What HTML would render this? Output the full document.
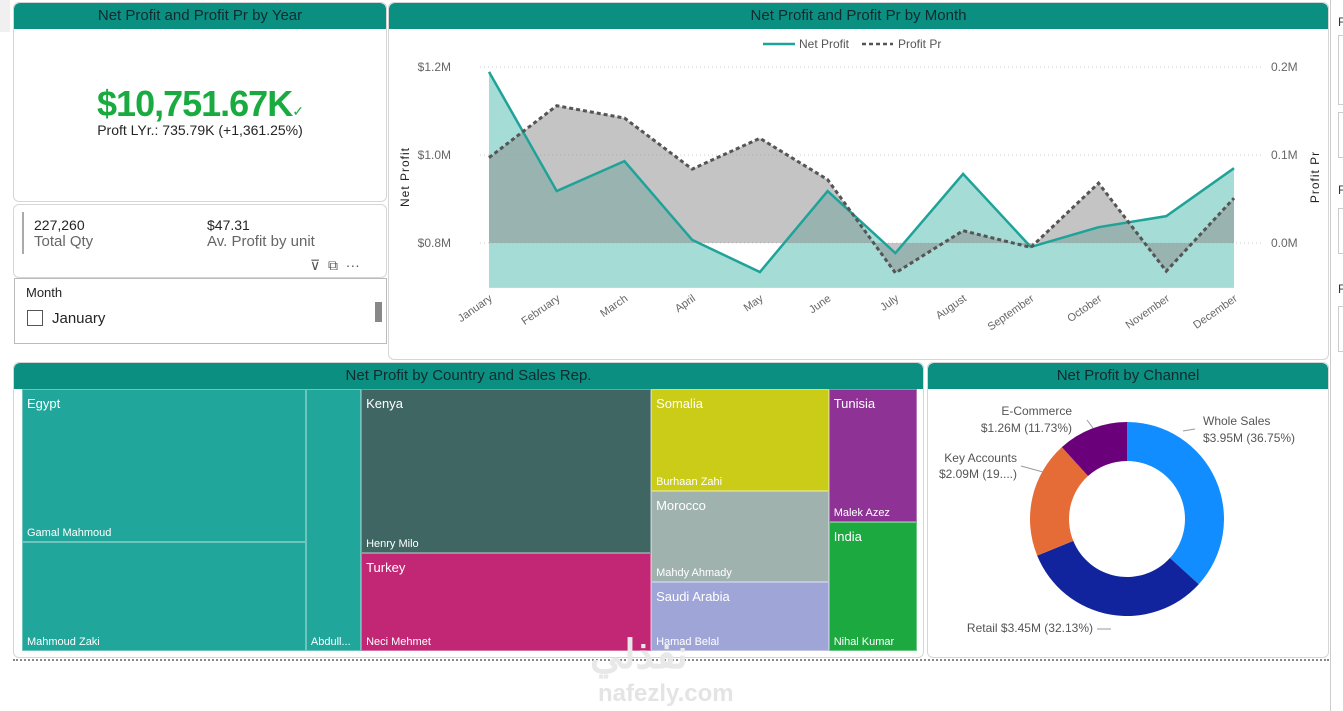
<!DOCTYPE html>
<html><head><meta charset="utf-8">
<style>
body{margin:0;width:1343px;height:711px;background:#fff;position:relative;overflow:hidden;font-family:"Liberation Sans",sans-serif;}
.panel{position:absolute;background:#fff;border:1px solid #d6d6d6;border-radius:6px;box-sizing:border-box;overflow:hidden}
.hdr{position:absolute;left:0;right:0;top:0;height:26px;background:#0b8f81;color:#112a30;font-size:15px;text-align:center;line-height:26px;border-radius:6px 6px 0 0}
.abs{position:absolute}
</style></head><body>
<div class="abs" style="left:0;top:0;width:10px;height:32px;background:#f0f0f0"></div>
<div class="panel" style="left:13px;top:2px;width:374px;height:200px">
  <div class="hdr">Net Profit and Profit Pr by Year</div>
  <div class="abs" style="left:0;right:0;top:80px;text-align:center;font-size:36px;color:#1aab40;font-weight:bold;letter-spacing:-1px">$10,751.67K<span style="font-size:14px;font-weight:normal">✓</span></div>
  <div class="abs" style="left:0;right:0;top:119px;text-align:center;font-size:14px;color:#252525">Proft LYr.: 735.79K (+1,361.25%)</div>
</div>
<div class="panel" style="left:13px;top:204px;width:374px;height:74px">
  <div class="abs" style="left:8px;top:7px;width:2px;height:42px;background:#aaa"></div>
  <div class="abs" style="left:20px;top:12px;font-size:14px;color:#252525">227,260<br><span style="color:#666;font-size:15px">Total Qty</span></div>
  <div class="abs" style="left:193px;top:12px;font-size:14px;color:#252525">$47.31<br><span style="color:#666;font-size:15px">Av. Profit by unit</span></div>
  <div class="abs" style="left:296px;top:52px;font-size:14px;color:#555">⊽ &nbsp;⧉ &nbsp;···</div>
</div>
<div class="panel" style="left:14px;top:278px;width:373px;height:66px;border:1px solid #bbb;border-radius:0">
  <div class="abs" style="left:11px;top:6px;font-size:13px;color:#252525">Month</div>
  <div class="abs" style="left:12px;top:31px;width:14px;height:14px;border:1px solid #555"></div>
  <div class="abs" style="left:37px;top:31px;font-size:15px;color:#252525">January</div>
  <div class="abs" style="left:360px;top:23px;width:7px;height:20px;background:#888"></div>
</div>
<div class="panel" style="left:388px;top:2px;width:941px;height:358px">
  <div class="hdr">Net Profit and Profit Pr by Month</div>
</div>
<svg class="abs" style="left:0;top:0" width="1343" height="711" id="lc">
</svg>
<div class="abs" style="left:1330px;top:0;width:1px;height:711px;background:#ccc"></div>
<div class="abs" style="left:1338px;top:15px;font-size:12px;color:#333">F</div>
<div class="abs" style="left:1338px;top:35px;width:10px;height:68px;border:1px solid #ccc"></div>
<div class="abs" style="left:1338px;top:112px;width:10px;height:44px;border:1px solid #ccc"></div>
<div class="abs" style="left:1338px;top:183px;font-size:12px;color:#333">F</div>
<div class="abs" style="left:1338px;top:208px;width:10px;height:44px;border:1px solid #ccc"></div>
<div class="abs" style="left:1338px;top:282px;font-size:12px;color:#333">F</div>
<div class="abs" style="left:1338px;top:306px;width:10px;height:44px;border:1px solid #ccc"></div>

<div class="panel" style="left:13px;top:362px;width:911px;height:296px">
  <div class="hdr">Net Profit by Country and Sales Rep.</div>
</div>
<div class="abs" id="tm" style="left:22px;top:389px;width:895px;height:262px"></div>
<div class="panel" style="left:927px;top:362px;width:402px;height:296px">
  <div class="hdr">Net Profit by Channel</div>
</div>
<svg class="abs" id="dn" style="left:927px;top:362px" width="402" height="296"></svg>
<div class="abs" style="left:13px;top:659px;width:1316px;border-top:2px dotted #888"></div>
<div class="abs" style="left:590px;top:632px;font-size:40px;color:#e8e8e8;font-weight:bold">نفذلي</div>
<div class="abs" style="left:598px;top:680px;font-size:24px;color:#e4e4e4;font-weight:bold">nafezly.com</div>
<script>
const months=["January","February","March","April","May","June","July","August","September","October","November","December"];
const netProfit=[1.189,0.918,0.986,0.807,0.734,0.918,0.777,0.957,0.791,0.836,0.861,0.970];
const profitPr=[0.097,0.156,0.142,0.084,0.119,0.072,-0.034,0.014,-0.005,0.068,-0.032,0.051];
const leftTicks=[0.8,1.0,1.2];const leftLabels=["$0.8M","$1.0M","$1.2M"];
const rightTicks=[0,0.1,0.2];const rightLabels=["0.0M","0.1M","0.2M"];
const NS="http://www.w3.org/2000/svg";
function mk(p,t,a){const e=document.createElementNS(NS,t);for(const k in a)e.setAttribute(k,a[k]);p.appendChild(e);return e;}
const lc=document.getElementById('lc');
const X=i=>489+i*(1234-489)/(months.length-1);
const YL=v=>243-(v-0.8)*440;
const YR=v=>243-v*880;
leftTicks.forEach((t,i)=>{
 const g=mk(lc,'line',{x1:480,x2:1262,y1:YL(t),y2:YL(t),stroke:'#ccc','stroke-dasharray':'1,3'});
 
 const l=mk(lc,'text',{x:451,y:YL(t)+4,'font-size':12,fill:'#666','text-anchor':'end'});l.textContent=leftLabels[i];
 });
rightTicks.forEach((t,i)=>{const l=mk(lc,'text',{x:1271,y:YR(t)+4,'font-size':12,fill:'#666'});l.textContent=rightLabels[i];
 });
let d='M'+X(0)+','+YL(0.698);netProfit.forEach((v,i)=>d+='L'+X(i)+','+YL(v));d+='L'+X(11)+','+YL(0.698)+'Z';
const a1=mk(lc,'path',{d,fill:'#80cdc4','fill-opacity':0.7});
let d2='M'+X(0)+','+YR(0);profitPr.forEach((v,i)=>d2+='L'+X(i)+','+YR(v));d2+='L'+X(11)+','+YR(0)+'Z';
const a2=mk(lc,'path',{d:d2,fill:'#8a8a8a','fill-opacity':0.5});
const l1=mk(lc,'polyline',{points:netProfit.map((v,i)=>X(i)+','+YL(v)).join(' '),fill:'none',stroke:'#1fa399','stroke-width':2.5});

const l2=mk(lc,'polyline',{points:profitPr.map((v,i)=>X(i)+','+YR(v)).join(' '),fill:'none',stroke:'#555','stroke-width':3,'stroke-dasharray':'4,3'});

months.forEach((m,i)=>{const t=mk(lc,'text',{x:X(i)+4,y:300,'font-size':11,fill:'#666','text-anchor':'end',transform:`rotate(-35 ${X(i)+4} 300)`});t.textContent=m;
 });
let t=mk(lc,'text',{x:0,y:0,'font-size':12,fill:'#222','text-anchor':'middle',transform:'translate(409 177) rotate(-90)','letter-spacing':1});t.textContent='Net Profit';

t=mk(lc,'text',{x:0,y:0,'font-size':12,fill:'#222','text-anchor':'middle',transform:'translate(1319 177) rotate(-90)','letter-spacing':1});t.textContent='Profit Pr';

mk(lc,'line',{x1:763,x2:795,y1:44,y2:44,stroke:'#1fa399','stroke-width':2.5});
t=mk(lc,'text',{x:799,y:48,'font-size':12,fill:'#555'});t.textContent='Net Profit';
mk(lc,'line',{x1:862,x2:893,y1:44,y2:44,stroke:'#555','stroke-width':2.5,'stroke-dasharray':'4,3'});
t=mk(lc,'text',{x:898,y:48,'font-size':12,fill:'#555'});t.textContent='Profit Pr';

// treemap
const tmNames=["Gamal Mahmoud","Mahmoud Zaki","Abdull...","Henry Milo","Neci Mehmet","Burhaan Zahi","Mahdy Ahmady","Hamad Belal","Malek Azez","Nihal Kumar"];
const tmCountries=["Egypt","","","Kenya","Turkey","Somalia","Morocco","Saudi Arabia","Tunisia","India"];
const tmValues=[1992,1419,663,2181,1303,831,741,562,539,522];
const tmColumn=[0,0,1,2,2,3,3,3,4,4];
const tmColors=["#20a69a","#20a69a","#20a69a","#3f6663","#c12775","#cbcc18","#a0b2ae","#a0a5d8","#8e3395","#1caa40"];
const tm=document.getElementById('tm');const W=895,H=262;
const total=tmValues.reduce((a,b)=>a+b,0);const ncol=Math.max(...tmColumn)+1;
let cx=0;
for(let c=0;c<ncol;c++){
 const idx=tmValues.map((v,i)=>i).filter(i=>tmColumn[i]===c);
 const cs=idx.reduce((s,i)=>s+tmValues[i],0);const cw=W*cs/total;let cy=0;
 idx.forEach(i=>{const h=H*tmValues[i]/cs;const e=document.createElement('div');
  
  
  e.style.cssText=`position:absolute;left:${cx}px;top:${cy}px;width:${cw}px;height:${h}px;background:${tmColors[i]};box-sizing:border-box;border:1px solid rgba(255,255,255,0.35);color:#fff;overflow:hidden`;
  e.innerHTML=(tmCountries[i]?`<div style="position:absolute;left:4px;top:6px;font-size:13px">${tmCountries[i]}</div>`:'')+`<div style="position:absolute;left:4px;bottom:2px;font-size:11px;white-space:nowrap">${tmNames[i]}</div>`;
  tm.appendChild(e);cy+=h;});
 cx+=cw;}

// donut
const chNames=["Whole Sales","Retail","Key Accounts","E-Commerce"];
const chValues=[3.95,3.45,2.09,1.26];
const chLabels=["$3.95M (36.75%)","$3.45M (32.13%)","$2.09M (19....)","$1.26M (11.73%)"];
const chColors=["#118dff","#12239e","#e66c37","#6b007b"];
const dn=document.getElementById('dn');const CX=200,CY=157,R=97,r=58;
const sum=chValues.reduce((a,b)=>a+b,0);let ang=0;
chValues.forEach((v,i)=>{const a0=ang,a1=ang+v/sum*2*Math.PI;ang=a1;
 const p=(a,rr)=>[CX+rr*Math.sin(a),CY-rr*Math.cos(a)];const lg=a1-a0>Math.PI?1:0;
 const [x0,y0]=p(a0,R),[x1,y1]=p(a1,R),[x2,y2]=p(a1,r),[x3,y3]=p(a0,r);
 const s=mk(dn,'path',{d:`M${x0},${y0}A${R},${R} 0 ${lg} 1 ${x1},${y1}L${x2},${y2}A${r},${r} 0 ${lg} 0 ${x3},${y3}Z`,fill:chColors[i]});
 });
function txt(x,y,s,anc,nm){const e=mk(dn,'text',{x,y,'font-size':12,fill:'#555','text-anchor':anc});e.textContent=s;}
txt(276,63,'Whole Sales','start','label-whole-sales');txt(276,80,chLabels[0],'start','label-whole-sales-value');
txt(166,270,'Retail '+chLabels[1],'end','label-retail');
txt(90,100,'Key Accounts','end','label-key-accounts');txt(90,116,chLabels[2],'end','label-key-accounts-value');
txt(145,53,'E-Commerce','end','label-e-commerce');txt(145,70,chLabels[3],'end','label-e-commerce-value');
[[256,69,268,67],[170,267,184,267],[94,104,116,110],[160,58,166,66]].forEach(l=>mk(dn,'polyline',{points:`${l[0]},${l[1]} ${l[2]},${l[3]}`,stroke:'#999',fill:'none'}));
</script>
</body></html>
